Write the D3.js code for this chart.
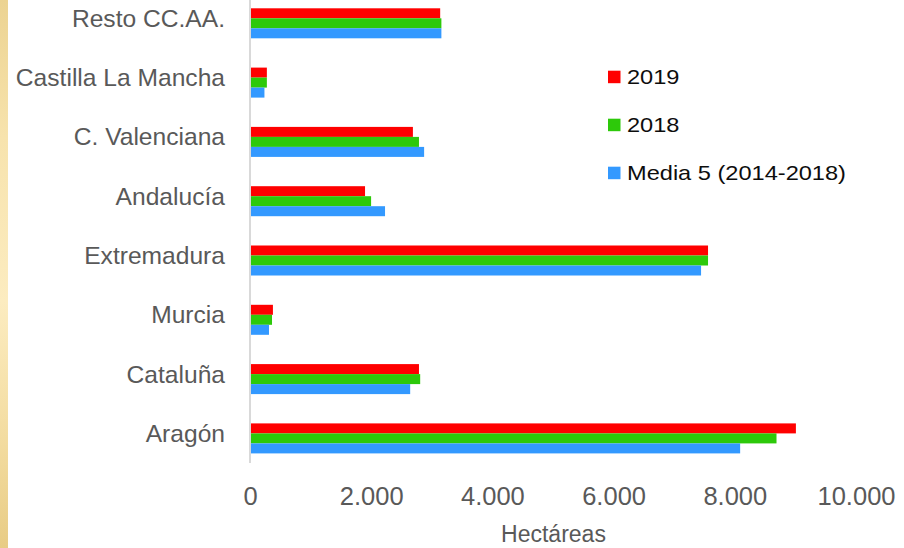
<!DOCTYPE html>
<html>
<head>
<meta charset="utf-8">
<script src="https://cdn.jsdelivr.net/npm/d3@7"></script>
<style>
  html, body { margin: 0; padding: 0; background: #fff; }
  svg { display: block; }
</style>
</head>
<body>
<svg id="chart" width="904" height="548"></svg>
<script>
// Superficie por comunidad autónoma (hectáreas)
const categories = ["Resto CC.AA.", "Castilla La Mancha", "C. Valenciana", "Andalucía",
                    "Extremadura", "Murcia", "Cataluña", "Aragón"];
const seriesNames = ["2019", "2018", "Media 5 (2014-2018)"];
const values2019  = [3130, 270, 2680, 1890, 7550, 370, 2780, 9000];
const values2018  = [3150, 270, 2780, 1990, 7550, 355, 2800, 8680];
const valuesMedia = [3150, 230, 2865, 2220, 7435, 305, 2635, 8080];
const seriesColors = ["#FF0000", "#2DC90A", "#3399FF"];
const xTicks = [0, 2000, 4000, 6000, 8000, 10000];
const xTitle = "Hectáreas";

const series = [values2019, values2018, valuesMedia];
const fmt = d3.formatLocale({ decimal: ",", thousands: ".", grouping: [3], currency: ["", "€"] }).format(",d");

const svg = d3.select("#chart");
const W = 904, H = 548;
const FONT = "'Liberation Sans', Arial, sans-serif";

// golden strip on the left edge
const defs = svg.append("defs");
const grad = defs.append("linearGradient").attr("id", "gold").attr("x1", 0).attr("y1", 0).attr("x2", 0).attr("y2", 1);
[[0, "#ecd391"], [0.25, "#f7e3ad"], [0.55, "#fcecc0"], [0.8, "#f3dca0"], [1, "#e8cc85"]]
  .forEach(([o, c]) => grad.append("stop").attr("offset", o).attr("stop-color", c));
svg.append("rect").attr("x", 0).attr("y", 0).attr("width", 8).attr("height", H).attr("fill", "url(#gold)");

const x = d3.scaleLinear().domain([0, 10000]).range([250.5, 856.5]);
const y = d3.scaleBand().domain(categories).range([-6.35, 468.05]).paddingInner(0.494).paddingOuter(0.247);
const ySub = d3.scaleBand().domain(seriesNames).range([0, y.bandwidth()]);
const plotBottom = 463;

// bars
const groups = svg.append("g").selectAll("g")
  .data(categories)
  .join("g")
  .attr("transform", d => `translate(0,${y(d)})`);

groups.selectAll("rect")
  .data((d, i) => seriesNames.map((s, k) => ({ s, k, v: series[k][i] })))
  .join("rect")
  .attr("x", x(0))
  .attr("y", d => ySub(d.s))
  .attr("width", d => x(d.v) - x(0))
  .attr("height", ySub.bandwidth())
  .attr("fill", d => seriesColors[d.k]);

// vertical category axis line
svg.append("line")
  .attr("x1", x(0) - 0.5).attr("x2", x(0) - 0.5)
  .attr("y1", 0).attr("y2", plotBottom)
  .attr("stroke", "#d9d9d9").attr("stroke-width", 2);

// category labels
svg.append("g").selectAll("text")
  .data(categories)
  .join("text")
  .attr("x", 225)
  .attr("y", d => y(d) + y.bandwidth() / 2 + 3.5)
  .attr("text-anchor", "end")
  .attr("font-family", FONT)
  .attr("font-size", 24.6)
  .attr("fill", "#595959")
  .text(d => d);

// value axis tick labels
svg.append("g").selectAll("text")
  .data(xTicks)
  .join("text")
  .attr("x", d => x(d))
  .attr("y", 505)
  .attr("text-anchor", "middle")
  .attr("font-family", FONT)
  .attr("font-size", 25.5)
  .attr("fill", "#595959")
  .text(d => fmt(d));

// axis title, centred under the plot area
svg.append("text")
  .attr("x", (x.range()[0] + x.range()[1]) / 2)
  .attr("y", 541.5)
  .attr("text-anchor", "middle")
  .attr("font-family", FONT)
  .attr("font-size", 23)
  .attr("fill", "#595959")
  .text(xTitle);

// legend
const legend = svg.append("g").attr("transform", "translate(608,70.7)");
const li = legend.selectAll("g")
  .data(seriesNames)
  .join("g")
  .attr("transform", (d, i) => `translate(0,${i * 48})`);
li.append("rect")
  .attr("width", 12.5).attr("height", 12.5)
  .attr("fill", (d, i) => seriesColors[i]);
li.append("text")
  .attr("transform", "translate(19,13.6) scale(1.18,1)")
  .attr("font-family", FONT)
  .attr("font-size", 20)
  .attr("fill", "#0d0d0d")
  .text(d => d);
</script>
</body>
</html>
